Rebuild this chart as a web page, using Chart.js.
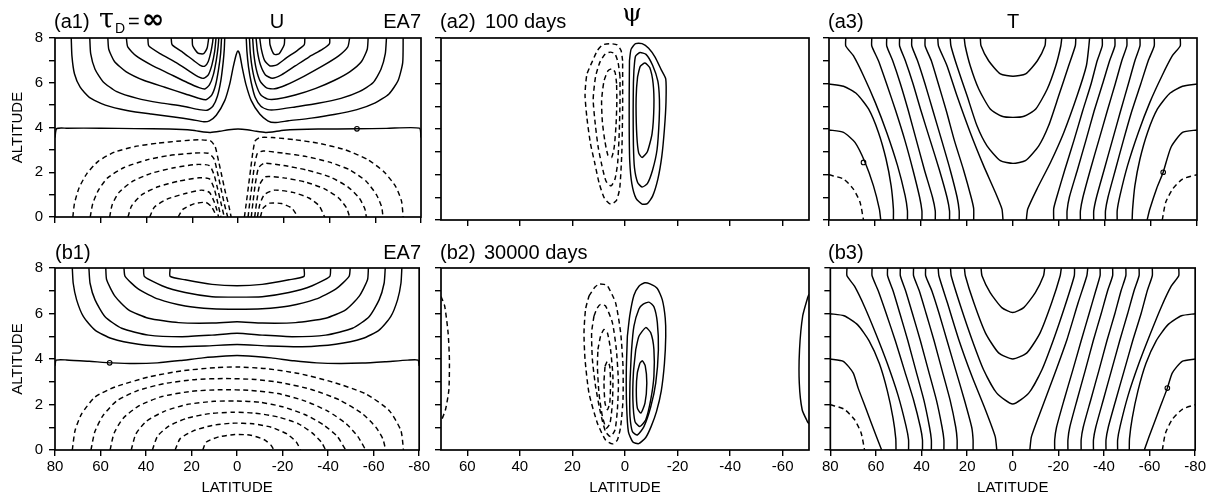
<!DOCTYPE html>
<html>
<head>
<meta charset="utf-8">
<script src="https://cdn.jsdelivr.net/npm/chart.js@4.4.0/dist/chart.umd.min.js"></script>
<style>
body { margin: 0; background: #fff; width: 1208px; height: 502px; position: relative; overflow: hidden; }
canvas { position: absolute; }
</style>
</head>
<body>
<canvas id="a1" width="432" height="232" style="left:0px;top:0px"></canvas>
<canvas id="a2" width="388" height="232" style="left:432px;top:0px"></canvas>
<canvas id="a3" width="388" height="232" style="left:820px;top:0px"></canvas>
<canvas id="b1" width="432" height="270" style="left:0px;top:232px"></canvas>
<canvas id="b2" width="388" height="270" style="left:432px;top:232px"></canvas>
<canvas id="b3" width="388" height="270" style="left:820px;top:232px"></canvas>
<script>
// tick values
var latTicks = [80, 60, 40, 20, 0, -20, -40, -60, -80];
var psiLatTicks = [60, 40, 20, 0, -20, -40, -60];
var altTicks = [0, 1, 2, 3, 4, 5, 6, 7, 8];

// contours are [latitude, altitude] pairs

// (a1) U, tau_D = infinity
var a1Solid = [
    [[72.9,8],[72.6,7.2],[71.5,6.4],[69,5.8],[65,5.35],[58,5.0],[48,4.75],[38,4.6],[28,4.47],[20,4.35],[15,4.26],[12.5,4.3],[9.5,4.55],[5.8,5.2],[3.6,5.95],[2.2,6.65],[0.8,7.25],[0,7.42],[-0.8,7.25],[-1.9,6.65],[-3.4,5.95],[-5.8,5.2],[-9.5,4.6],[-13,4.3],[-16,4.22],[-22,4.3],[-32,4.42],[-42,4.58],[-52,4.8],[-60,5.1],[-66,5.5],[-70,6.1],[-72,6.9],[-72.2,8]],
    [[64.8,8],[64.4,7.3],[62.5,6.6],[59,6.05],[53,5.6],[44,5.3],[34,5.1],[24,4.95],[17,4.8],[13.5,4.77],[11,4.95],[9,5.4],[7.5,6.1],[6.5,6.9],[6,7.5],[5.8,8]],
    [[56.9,8],[56.5,7.5],[54,6.95],[49,6.5],[41,6.1],[32,5.8],[23,5.5],[17,5.3],[14,5.24],[11.5,5.45],[9.8,5.9],[8.5,6.6],[7.6,7.3],[7.2,8]],
    [[48.8,8],[48.2,7.6],[44.5,7.2],[38,6.8],[30,6.4],[22,6.0],[17,5.78],[14.5,5.72],[12.5,5.9],[10.8,6.35],[9.5,7.0],[8.7,7.6],[8.4,8]],
    [[39.4,8],[39,7.65],[34,7.3],[27,6.9],[21,6.5],[17,6.25],[15,6.2],[13,6.35],[11.4,6.8],[10.2,7.4],[9.6,8]],
    [[29.2,8],[28.8,7.7],[24,7.35],[19.5,7.0],[16.5,6.78],[14.5,6.74],[13,6.95],[11.8,7.4],[11.1,7.8],[10.9,8]],
    [[20,8],[19.8,7.65],[17.5,7.32],[15,7.3],[13.5,7.55],[12.8,8]],
    [[-3.6,8],[-3.9,7.4],[-4.6,6.7],[-5.8,6.0],[-7.5,5.35],[-10,4.95],[-13,4.8],[-17,4.8],[-25,4.92],[-35,5.08],[-45,5.3],[-53,5.6],[-59,6.0],[-62.5,6.6],[-64.4,7.3],[-64.9,8]],
    [[-5,8],[-5.4,7.3],[-6.3,6.6],[-7.8,5.95],[-10,5.45],[-13,5.27],[-17,5.27],[-25,5.45],[-34,5.75],[-42,6.1],[-49,6.5],[-54,6.95],[-56.5,7.5],[-56.9,8]],
    [[-6.4,8],[-6.9,7.3],[-8,6.6],[-9.8,6.05],[-12.5,5.77],[-16,5.73],[-21,5.9],[-29,6.3],[-37,6.75],[-44,7.2],[-48,7.6],[-48.8,8]],
    [[-7.9,8],[-8.5,7.4],[-9.8,6.8],[-12,6.35],[-15,6.2],[-19,6.35],[-25,6.75],[-31,7.15],[-37,7.5],[-40,7.75],[-40.1,8]],
    [[-9.5,8],[-10.2,7.5],[-11.6,7.0],[-14,6.75],[-17,6.8],[-21,7.1],[-26,7.45],[-29,7.7],[-29.2,8]],
    [[-13.8,8],[-14,7.7],[-15.8,7.27],[-18,7.3],[-20.2,7.7],[-20.4,8]],
    [[80,3.55],[79.3,3.95],[75,3.97],[60,3.97],[45,3.95],[30,3.93],[20,3.88],[15,3.8],[12,3.78],[8,3.83],[4,3.9],[0,3.93],[-4,3.9],[-8,3.83],[-12,3.78],[-15,3.8],[-20,3.88],[-35,3.93],[-52,3.94],[-65,3.96],[-79.3,3.97],[-80,3.55]]
];
var a1Dashed = [
    [[72.2,0],[71.5,0.6],[69.5,1.3],[66,1.95],[61,2.5],[54,2.9],[45,3.15],[35,3.3],[25,3.4],[17,3.45],[12,3.4],[10,3.15],[8.5,2.5],[7,1.8],[5.5,1.1],[4,0.5],[3,0]],
    [[64.6,0],[63.5,0.6],[61,1.2],[57,1.75],[50,2.2],[40,2.55],[30,2.75],[20,2.85],[13,2.85],[10.5,2.6],[9,2.0],[7.5,1.3],[6,0.6],[4.5,0]],
    [[56.1,0],[55,0.55],[52,1.1],[46,1.6],[38,1.95],[28,2.2],[18,2.35],[12.5,2.3],[10.5,1.9],[9,1.3],[7.5,0.65],[6,0]],
    [[48.1,0],[46.5,0.5],[42,1.0],[35,1.35],[26,1.6],[17,1.75],[12.5,1.7],[10.5,1.3],[9,0.7],[7.5,0]],
    [[38.6,0],[36.5,0.45],[31,0.8],[23,1.05],[16,1.2],[12.5,1.1],[10.5,0.7],[9.2,0.3],[8.5,0]],
    [[26.2,0],[24,0.35],[19,0.6],[14,0.65],[11.5,0.45],[10.2,0.2],[9.6,0]],
    [[-2.8,0],[-3.6,0.6],[-4.6,1.4],[-5.6,2.2],[-6.5,2.9],[-7.5,3.4],[-9.5,3.55],[-15,3.55],[-25,3.45],[-35,3.3],[-47,3.0],[-57,2.55],[-64,2.0],[-69,1.35],[-71.5,0.7],[-72.2,0]],
    [[-4.4,0],[-5.2,0.7],[-6.2,1.5],[-7.2,2.3],[-8.5,2.85],[-11,2.95],[-20,2.85],[-30,2.7],[-40,2.45],[-49,2.1],[-56,1.6],[-60.5,1.0],[-62.8,0.45],[-63.4,0]],
    [[-5.8,0],[-6.6,0.7],[-7.6,1.5],[-9,2.2],[-11.5,2.4],[-20,2.3],[-30,2.1],[-40,1.8],[-48,1.35],[-53,0.85],[-55.5,0.35],[-56.1,0]],
    [[-7.3,0],[-8.2,0.7],[-9.5,1.45],[-12,1.8],[-20,1.75],[-30,1.55],[-38,1.25],[-44,0.85],[-47.5,0.4],[-48.8,0]],
    [[-8.5,0],[-9.5,0.55],[-11.5,1.0],[-16,1.2],[-24,1.1],[-31,0.85],[-35.5,0.5],[-37.9,0]],
    [[-9.8,0],[-11,0.4],[-14,0.62],[-19,0.6],[-23.5,0.4],[-26.2,0]]
];
var a1Marks = [[-52, 3.94]];

// (a2) psi, 100 days
var a2Solid = [
    [[-1.7,7.0],[-2.3,7.5],[-4,7.75],[-6.5,7.75],[-9,7.55],[-11.5,7.15],[-13.8,6.6],[-15.5,6.2],[-15.6,5.2],[-15,4.0],[-14,2.8],[-12.5,1.8],[-10.5,1.05],[-8.5,0.72],[-6.5,0.7],[-4.2,0.95],[-2.6,1.6],[-1.8,2.6],[-1.6,4.0],[-1.6,5.5],[-1.7,7.0]],
    [[-3.4,6.6],[-4,7.2],[-5.7,7.36],[-8,7.28],[-10.5,6.8],[-12.5,6.1],[-13.1,5.3],[-13,4.4],[-12.2,3.1],[-10.5,2.2],[-8.5,1.6],[-6.5,1.45],[-4.8,1.65],[-3.6,2.3],[-3.2,3.3],[-3.1,4.8],[-3.2,6.0],[-3.4,6.6]],
    [[-4.8,6.3],[-5.8,6.75],[-7.6,6.9],[-9.4,6.7],[-10.7,6.0],[-11,5.0],[-10.3,3.8],[-8.5,3.0],[-6.5,2.75],[-5.2,2.95],[-4.5,3.7],[-4.2,5.0],[-4.4,5.8],[-4.8,6.3]]
];
var a2Dashed = [
    [[0.9,7.0],[1.5,7.45],[3,7.7],[5.7,7.75],[8.5,7.7],[10.5,7.45],[12.5,6.95],[14.5,6.4],[15.2,5.5],[14.5,4.5],[13.2,3.4],[11.5,2.5],[9.8,1.6],[7.8,0.95],[5.5,0.7],[3.3,0.85],[2,1.4],[1.2,3.0],[0.9,5.0],[0.9,7.0]],
    [[1.9,6.3],[2.6,6.9],[3.8,7.3],[5.5,7.38],[7.5,7.3],[9.5,6.95],[11.2,6.3],[12.1,5.3],[11.3,4.2],[10.2,3.2],[8.8,2.4],[7.2,1.7],[5.3,1.5],[3.8,1.8],[2.8,2.5],[2.2,3.8],[1.9,5.2],[1.9,6.3]],
    [[3.2,6.0],[3.8,6.5],[5,6.65],[6.5,6.55],[8,6.1],[8.9,5.25],[8.6,4.3],[7.7,3.5],[6.5,2.85],[5.1,2.75],[4.1,3.2],[3.4,4.2],[3.1,5.2],[3.2,6.0]]
];

// (a3) T
var a3Solid = [
    [[80,5.98],[73.7,5.88],[67.9,5.54],[62.8,4.88],[58.5,3.85],[55.2,2.68],[53,1.51],[52,0.48],[52,0]],
    [[80,3.96],[73.7,3.85],[68.7,3.41],[64.3,2.53],[60.7,1.51],[58.1,0.48],[57.5,0]],
    [[72.7,8],[72.7,7.65],[69.4,7.22],[65,6.34],[59.9,5.17],[54.9,3.85],[50.2,2.39],[46.9,1.07],[45.9,0.41],[45.9,0]],
    [[61.4,8],[61.4,7.65],[58.5,7.0],[55,6.0],[51,4.8],[47,3.5],[43.5,2.2],[40.6,1.0],[39.6,0.4],[39.6,0]],
    [[54.9,8],[54.9,7.65],[52.3,7.0],[49,6.0],[45.5,4.8],[42,3.5],[38.5,2.2],[35,1.0],[33.8,0.4],[33.8,0]],
    [[49.3,8],[49.3,7.65],[46.8,7.0],[43.5,6.0],[40,4.8],[36,3.5],[32,2.2],[28.7,1.0],[27.6,0.4],[27.6,0]],
    [[44,8],[44,7.65],[41.5,7.0],[38.3,6.0],[34.8,4.8],[31,3.5],[27.3,2.2],[24.3,1.0],[23.4,0.4],[23.4,0]],
    [[38.2,8],[38.2,7.65],[35.5,7.0],[32.5,6.0],[29,4.8],[25.5,3.5],[21.5,2.2],[18.2,1.0],[17.1,0.5],[17.1,0]],
    [[32.7,8],[32.4,7.65],[28.7,6.78],[24.4,5.47],[18.6,3.85],[12.8,2.39],[7.7,1.22],[4.8,0.48],[4.35,0]],
    [[27.3,8],[27,7.66],[24.4,6.78],[20,5.47],[15.7,4.15],[11.3,3.26],[5.5,2.61],[0,2.49],[-5.4,2.61],[-11.2,3.26],[-15.5,4.15],[-19.9,5.47],[-24.2,6.78],[-27.1,7.66],[-27.3,8]],
    [[21.2,8],[20.8,7.66],[18.6,6.78],[14.9,5.76],[9.9,4.88],[4.8,4.56],[0,4.51],[-4.8,4.56],[-9.9,4.88],[-14.9,5.76],[-18.6,6.78],[-20.8,7.66],[-21.2,8]],
    [[14.2,8],[13.9,7.66],[10.6,7.0],[5.5,6.42],[0,6.32],[-5.5,6.42],[-10.6,7.0],[-13.9,7.66],[-14.2,8]],
    [[-5.8,0],[-6.4,0.48],[-10.4,1.36],[-16.3,2.53],[-22.1,3.85],[-27.9,5.47],[-31.9,6.78],[-33,7.66],[-33.3,8]],
    [[-17.7,0],[-17.7,0.5],[-19,1.0],[-22.5,2.2],[-26.5,3.5],[-30.3,4.8],[-34,6.0],[-36.6,7.0],[-38.8,7.65],[-38.8,8]],
    [[-23.5,0],[-23.5,0.4],[-24.5,1.0],[-28,2.2],[-31.7,3.5],[-35.3,4.8],[-39,6.0],[-42,7.0],[-44.3,7.65],[-44.3,8]],
    [[-29.3,0],[-29.3,0.4],[-30.4,1.0],[-33.6,2.2],[-37.3,3.5],[-41,4.8],[-44.5,6.0],[-47.3,7.0],[-49.5,7.65],[-49.5,8]],
    [[-35.1,0],[-35.1,0.4],[-36.3,1.0],[-39.6,2.2],[-43.2,3.5],[-46.8,4.8],[-50.2,6.0],[-53,7.0],[-55.2,7.65],[-55.2,8]],
    [[-40.2,0],[-40.2,0.4],[-41.3,1.0],[-44.5,2.2],[-48,3.5],[-51.7,4.8],[-55.6,6.0],[-58.8,7.0],[-61.4,7.65],[-61.4,8]],
    [[-45.3,0],[-45.3,0.41],[-46.5,1.07],[-49.8,2.39],[-54.5,3.85],[-59.5,5.17],[-64.8,6.34],[-69.3,7.22],[-72.7,7.65],[-72.7,8]],
    [[-51.8,0],[-52,0.48],[-53,1.51],[-55.2,2.68],[-58.5,3.85],[-62.8,4.88],[-67.9,5.54],[-73.7,5.88],[-80,5.98]],
    [[-58.3,0],[-59.5,0.48],[-62.5,1.4],[-65.3,2.1],[-68.7,3.2],[-73.7,3.85],[-80,3.96]]
];
var a3Dashed = [
    [[80,1.99],[73.7,1.8],[69.4,1.36],[66.5,0.78],[65,0]],
    [[-64.9,0],[-66.4,0.78],[-69.4,1.36],[-73.7,1.8],[-80,1.99]]
];
var a3Marks = [[65, 2.53], [-65.3, 2.1]];

// (b1) U, EA7
var b1Solid = [
    [[72.4,8],[72,7.33],[70.5,6.6],[67.5,5.86],[62.4,5.27],[55.1,4.9],[43.3,4.65],[28.6,4.54],[14,4.57],[0,4.64],[-14,4.57],[-28.6,4.54],[-43.3,4.65],[-55.1,4.9],[-62.4,5.27],[-67.5,5.86],[-70.5,6.6],[-72,7.33],[-72.4,8]],
    [[65.1,8],[64.6,7.33],[62.4,6.6],[58,5.86],[50.7,5.35],[38.9,5.05],[24.2,4.98],[11,5.05],[0,5.13],[-11,5.05],[-24.2,4.98],[-38.9,5.05],[-50.7,5.35],[-58,5.86],[-62.4,6.6],[-64.6,7.33],[-65.1,8]],
    [[57.7,8],[57.3,7.48],[53.6,6.75],[47.7,6.16],[38.9,5.79],[25.7,5.6],[11,5.58],[0,5.64],[-11,5.58],[-25.7,5.6],[-38.9,5.79],[-47.7,6.16],[-53.6,6.75],[-57.3,7.48],[-57.7,8]],
    [[49.7,8],[49.2,7.63],[43.3,7.07],[34.5,6.63],[22.8,6.33],[11,6.21],[0,6.19],[-11,6.21],[-22.8,6.33],[-34.5,6.63],[-43.3,7.07],[-49.2,7.63],[-49.7,8]],
    [[41.1,8],[40.7,7.63],[33,7.22],[22.8,6.92],[11,6.74],[0,6.72],[-11,6.74],[-22.8,6.92],[-33,7.22],[-40.7,7.63],[-41.1,8]],
    [[29.4,8],[29.4,7.63],[22.8,7.48],[11,7.28],[0,7.22],[-11,7.28],[-22.8,7.48],[-29.4,7.63],[-29.4,8]],
    [[80,3.7],[79.5,3.95],[75,3.96],[65,3.9],[55,3.83],[45,3.8],[35,3.83],[25,3.93],[15,4.05],[5,4.13],[0,4.15],[-5,4.13],[-15,4.05],[-25,3.92],[-35,3.83],[-45,3.8],[-55,3.82],[-65,3.88],[-75,3.95],[-79.5,3.95],[-80,3.7]]
];
var b1Dashed = [
    [[72.4,0],[71.2,0.85],[68.3,1.59],[62.4,2.33],[53.6,2.77],[38.9,3.21],[24.2,3.48],[9.5,3.62],[0,3.65],[-12.5,3.58],[-27.2,3.36],[-41.9,2.99],[-56.5,2.47],[-66.8,1.74],[-72,0.85],[-73.1,0]],
    [[64.2,0],[62.5,0.8],[59,1.5],[53,2.15],[44,2.6],[32,2.92],[18,3.1],[5,3.14],[-8,3.1],[-20,2.95],[-33,2.65],[-45,2.2],[-55,1.6],[-61,1.0],[-64,0.5],[-65.3,0]],
    [[55.8,0],[54,0.75],[50,1.4],[43,1.95],[33,2.35],[20,2.58],[7,2.65],[-6,2.62],[-18,2.48],[-30,2.15],[-40,1.7],[-48,1.15],[-53,0.6],[-56.5,0]],
    [[46.5,0],[44.5,0.7],[40,1.25],[32,1.7],[22,2.0],[10,2.14],[0,2.15],[-10,2.1],[-20,1.9],[-30,1.55],[-38,1.1],[-44,0.6],[-47.7,0]],
    [[37.2,0],[35,0.6],[30,1.05],[22,1.4],[12,1.6],[2,1.66],[-8,1.62],[-18,1.45],[-27,1.15],[-33,0.75],[-37,0.35],[-38.9,0]],
    [[27.2,0],[25,0.5],[19,0.85],[11,1.08],[2,1.18],[-7,1.15],[-15,1.0],[-22,0.7],[-26,0.35],[-27.9,0]],
    [[15.1,0],[13.5,0.35],[8,0.58],[1,0.68],[-6,0.65],[-12,0.45],[-15,0.2],[-16.2,0]]
];
var b1Marks = [[56, 3.83]];

// (b2) psi, 30000 days
var b2Solid = [
    [[-0.9,5.0],[-1.8,5.9],[-3.4,6.8],[-5.3,7.2],[-7.5,7.35],[-9.5,7.3],[-12.3,7.1],[-14.2,6.6],[-15.3,5.8],[-15.5,5.0],[-15,3.8],[-13.8,2.6],[-12,1.7],[-10,1.05],[-7.9,0.55],[-5.2,0.28],[-3,0.35],[-1.3,0.8],[-0.6,2.0],[-0.5,3.5],[-0.9,5.0]],
    [[-1.9,3.0],[-2.5,4.4],[-3.4,5.45],[-5.3,6.2],[-6.8,6.4],[-9.1,6.5],[-11,6.3],[-12.3,5.6],[-12.7,4.4],[-11.7,2.95],[-9.8,1.9],[-7.2,1.03],[-4.7,0.66],[-2.8,0.81],[-1.9,1.47],[-1.8,2.2],[-1.9,3.0]],
    [[-4.1,4.42],[-5.3,5.0],[-7.9,5.38],[-9.8,5.15],[-11,4.42],[-11,3.24],[-9.8,2.21],[-7.9,1.33],[-5.6,1.03],[-3.8,1.25],[-3.0,2.21],[-3.2,3.39],[-4.1,4.42]],
    [[-5.7,3.83],[-6.6,3.92],[-7.7,3.7],[-8.3,2.95],[-7.6,2.06],[-6.0,1.62],[-4.7,1.84],[-4.3,2.65],[-4.7,3.39],[-5.7,3.83]],
    [[-70,6.85],[-69.5,6.7],[-67.6,5.89],[-66.4,4.42],[-66.3,2.95],[-67.4,1.77],[-69.4,1.25],[-70,1.15]]
];
var b2Dashed = [
    [[13.7,6.77],[11.5,7.15],[9.9,7.29],[8,7.28],[6.7,7.22],[3.6,6.48],[1.65,5.15],[0.76,3.68],[0.76,2.21],[1.65,1.03],[2.9,0.44],[4.8,0.27],[7.4,0.44],[10.5,1.18],[13.7,2.5],[15.2,3.98],[15.6,5.15],[15,6.19],[13.7,6.77]],
    [[11.8,5.89],[10.5,6.25],[9.3,6.4],[7.4,6.33],[4.8,5.6],[3.3,4.42],[2.5,2.95],[2.9,1.77],[3.8,0.88],[5.5,0.59],[7.4,0.81],[9.3,1.62],[11.2,2.8],[12.4,3.98],[12.7,5.15],[11.8,5.89]],
    [[10.3,4.42],[9.3,5.0],[8.0,5.3],[6.7,5.15],[5.5,4.42],[4.6,3.24],[4.8,2.06],[5.7,1.18],[7.1,0.96],[8.6,1.47],[9.9,2.5],[10.5,3.68],[10.3,4.42]],
    [[7.6,3.68],[6.7,3.9],[5.8,3.68],[5.5,2.95],[5.8,2.06],[6.7,1.77],[7.6,2.06],[8.0,2.95],[7.6,3.68]],
    [[70,6.75],[68.6,6.33],[67.3,5.15],[66.8,3.98],[67,2.65],[68.3,1.77],[70,1.25]]
];

// (b3) T
var b3Solid = [
    [[80,5.99],[74,5.9],[68,5.5],[63,4.8],[58.5,3.8],[55,2.6],[52.5,1.4],[51.3,0.5],[51.2,0]],
    [[80,4.0],[74.3,3.9],[70,3.39],[67.8,2.72],[64.2,1.77],[59.8,0.59],[57.5,0]],
    [[72.7,8],[72.7,7.66],[69.4,7.2],[65,6.3],[60,5.1],[55,3.8],[50.3,2.4],[46.8,1.05],[45.7,0.45],[45.7,0]],
    [[61.7,8],[61.7,7.66],[59,7.0],[55.5,6.0],[51.5,4.8],[47.5,3.5],[43.5,2.2],[40.5,1.0],[39.6,0.45],[39.6,0]],
    [[54.9,8],[54.9,7.66],[52.5,7.0],[49.5,6.0],[46,4.8],[42.5,3.5],[39,2.2],[36.5,1.0],[35.7,0.45],[35.7,0]],
    [[49.3,8],[49.3,7.66],[47,7.0],[44,6.0],[40.5,4.8],[37,3.5],[33.5,2.2],[31,1.0],[30.2,0.45],[30.2,0]],
    [[43.5,8],[43.5,7.66],[41,7.0],[38,6.0],[34.5,4.8],[31,3.5],[27.5,2.2],[25,1.0],[24.4,0.45],[24.4,0]],
    [[38.2,8],[38.2,7.66],[35.5,7.0],[32.3,6.0],[28.8,4.8],[25,3.5],[21.2,2.2],[18,1.0],[17.4,0.45],[17.4,0]],
    [[32.7,8],[32.4,7.66],[28.7,6.48],[23.7,4.86],[17.9,3.24],[12,1.77],[7.7,0.59],[7.0,0]],
    [[27.3,8],[27,7.66],[22.9,6.33],[17.9,4.86],[12.8,3.53],[7.0,2.5],[0,2.02],[-7.0,2.5],[-12.8,3.53],[-17.9,4.86],[-22.9,6.33],[-27,7.66],[-27.1,8]],
    [[21.2,8],[20.8,7.66],[17.1,6.48],[12,5.15],[6.2,4.27],[0,4.0],[-6.2,4.27],[-12,5.15],[-17.1,6.48],[-20.8,7.66],[-21.3,8]],
    [[13.9,8],[13.5,7.66],[9.9,6.92],[4.8,6.26],[0,6.04],[-4.8,6.26],[-9.9,6.92],[-13.5,7.66],[-14,8]],
    [[-7.5,0],[-8.2,0.59],[-12.5,1.77],[-18,3.24],[-23.8,4.86],[-28.7,6.48],[-32.5,7.66],[-32.9,8]],
    [[-18.4,0],[-18.4,0.45],[-19.2,1.0],[-22.5,2.2],[-26.3,3.5],[-30,4.8],[-33.5,6.0],[-36.4,7.0],[-38.3,7.66],[-38.3,8]],
    [[-24.2,0],[-24.2,0.45],[-25,1.0],[-28.2,2.2],[-31.8,3.5],[-35.3,4.8],[-38.8,6.0],[-41.6,7.0],[-43.8,7.66],[-43.8,8]],
    [[-30,0],[-30,0.45],[-30.9,1.0],[-34.2,2.2],[-37.8,3.5],[-41.3,4.8],[-44.8,6.0],[-47.5,7.0],[-49.6,7.66],[-49.6,8]],
    [[-35.4,0],[-35.4,0.45],[-36.4,1.0],[-39.7,2.2],[-43.3,3.5],[-46.9,4.8],[-50.4,6.0],[-53.2,7.0],[-55.4,7.66],[-55.4,8]],
    [[-40.9,0],[-40.9,0.45],[-41.9,1.0],[-45.2,2.2],[-48.9,3.5],[-52.6,4.8],[-56.3,6.0],[-59,7.0],[-61.2,7.66],[-61.2,8]],
    [[-46,0],[-46,0.45],[-47.1,1.05],[-50.6,2.4],[-55.3,3.8],[-60.3,5.1],[-65.2,6.3],[-69.5,7.2],[-72.8,7.66],[-72.8,8]],
    [[-51.1,0],[-51.2,0.5],[-52.4,1.4],[-54.9,2.6],[-58.4,3.8],[-62.9,4.8],[-68,5.5],[-74,5.9],[-80,5.99]],
    [[-57.7,0],[-59.8,0.59],[-64.2,1.77],[-67.8,2.72],[-70,3.39],[-74.3,3.9],[-80,4.0]]
];
var b3Dashed = [
    [[80,1.99],[74,1.8],[69.5,1.35],[66.5,0.75],[65,0]],
    [[-65.6,0],[-67,0.75],[-70,1.35],[-74.5,1.8],[-80,1.99]]
];
var b3Marks = [[-67.8, 2.72]];

var SANS = '"Liberation Sans", Arial, sans-serif';
Chart.defaults.font.family = SANS;
Chart.defaults.color = '#000';

// panel headers, page coordinates (x, baseline y)
var headA1 = [
    { text: '(a1)', x: 54, y: 28, font: '20px ' + SANS },
    { text: 'τ', x: 99, y: 28, font: '27px "DejaVu Serif"' },
    { text: 'D', x: 115, y: 33, font: '14px ' + SANS },
    { text: '=', x: 128, y: 28, font: '20px ' + SANS },
    { text: '∞', x: 142, y: 28, font: 'bold 27px "DejaVu Sans"' },
    { text: 'U', x: 277, y: 28, font: '20px ' + SANS, align: 'center' },
    { text: 'EA7', x: 421, y: 28, font: '20px ' + SANS, align: 'right' }
];
var headA2 = [
    { text: '(a2)', x: 440, y: 28, font: '20px ' + SANS },
    { text: '100 days', x: 485, y: 28, font: '20px ' + SANS },
    { text: 'ψ', x: 632, y: 21, font: '25px "DejaVu Serif"', align: 'center' }
];
var headA3 = [
    { text: '(a3)', x: 828, y: 28, font: '20px ' + SANS },
    { text: 'T', x: 1013, y: 28, font: '20px ' + SANS, align: 'center' }
];
var headB1 = [
    { text: '(b1)', x: 55, y: 259, font: '20px ' + SANS },
    { text: 'EA7', x: 421, y: 259, font: '20px ' + SANS, align: 'right' }
];
var headB2 = [
    { text: '(b2)', x: 440, y: 259, font: '20px ' + SANS },
    { text: '30000 days', x: 484, y: 259, font: '20px ' + SANS }
];
var headB3 = [
    { text: '(b3)', x: 828, y: 259, font: '20px ' + SANS }
];

var boxPlugin = {
    id: 'box',
    afterDatasetsDraw: function (chart) {
        var a = chart.chartArea, ctx = chart.ctx;
        ctx.save();
        ctx.strokeStyle = '#000';
        ctx.lineWidth = 1.7;
        ctx.strokeRect(a.left, a.top, a.right - a.left, a.bottom - a.top);
        ctx.restore();
    }
};

function headerPlugin(items, offX, offY) {
    return {
        id: 'header',
        afterDraw: function (chart) {
            var ctx = chart.ctx;
            ctx.save();
            ctx.fillStyle = '#000';
            ctx.textBaseline = 'alphabetic';
            items.forEach(function (it) {
                ctx.font = it.font;
                ctx.textAlign = it.align || 'left';
                ctx.fillText(it.text, it.x - offX, it.y - offY);
            });
            ctx.restore();
        }
    };
}

function lineSet(pts, dashed) {
    return {
        data: pts.map(function (p) { return { x: p[0], y: p[1] }; }),
        showLine: true,
        pointRadius: 0,
        borderColor: '#000',
        borderWidth: 1.45,
        borderDash: dashed ? [5, 3.5] : [],
        tension: 0.2,
        fill: false
    };
}

function makeScales(col, row) {
    var xr = col === 2 ? 70 : 80;
    var xt = col === 2 ? psiLatTicks : latTicks;
    return {
        x: {
            type: 'linear', min: -xr, max: xr, reverse: true,
            afterBuildTicks: function (s) { s.ticks = xt.map(function (v) { return { value: v }; }); },
            afterFit: function (s) { s.height = row === 'a' ? 12 : 52; },
            grid: { drawOnChartArea: false, drawTicks: true, tickLength: 6, color: '#000', lineWidth: 1.4 },
            border: { display: false },
            ticks: { display: row === 'b', autoSkip: false, maxRotation: 0, padding: 2, font: { size: 15 },
                     callback: function (v) { return String(v); } },
            title: { display: row === 'b', text: 'LATITUDE', font: { size: 15 }, padding: { top: 0, bottom: 5 } }
        },
        y: {
            type: 'linear', min: 0, max: 8,
            afterBuildTicks: function (s) { s.ticks = altTicks.map(function (v) { return { value: v }; }); },
            afterFit: function (s) { s.width = col === 1 ? 55 : 9; },
            grid: { drawOnChartArea: false, drawTicks: true, tickLength: 6, color: '#000', lineWidth: 1.4 },
            border: { display: false },
            ticks: { display: col === 1, autoSkip: false, padding: 6, font: { size: 15 },
                     callback: function (v) { return v % 2 === 0 ? String(v) : ''; } },
            title: { display: col === 1, text: 'ALTITUDE', font: { size: 15 }, padding: { top: 9, bottom: 0 } }
        }
    };
}

function makePanel(id, col, row, solid, dashed, marks, header) {
    var cv = document.getElementById(id);
    var offX = parseInt(cv.style.left), offY = parseInt(cv.style.top);
    var datasets = [];
    solid.forEach(function (l) { datasets.push(lineSet(l, false)); });
    dashed.forEach(function (l) { datasets.push(lineSet(l, true)); });
    if (marks.length) {
        datasets.push({
            data: marks.map(function (p) { return { x: p[0], y: p[1] }; }),
            showLine: false, pointRadius: 2.3, pointBackgroundColor: '#fff',
            pointBorderColor: '#000', pointBorderWidth: 1.1
        });
    }
    new Chart(cv, {
        type: 'scatter',
        data: { datasets: datasets },
        options: {
            responsive: false,
            animation: false,
            events: [],
            layout: { padding: { top: row === 'a' ? 38 : 36, right: 11, left: 0, bottom: 0 } },
            plugins: { legend: { display: false }, tooltip: { enabled: false } },
            scales: makeScales(col, row)
        },
        plugins: [boxPlugin, headerPlugin(header, offX, offY)]
    });
}

makePanel('a1', 1, 'a', a1Solid, a1Dashed, a1Marks, headA1);
makePanel('a2', 2, 'a', a2Solid, a2Dashed, [], headA2);
makePanel('a3', 3, 'a', a3Solid, a3Dashed, a3Marks, headA3);
makePanel('b1', 1, 'b', b1Solid, b1Dashed, b1Marks, headB1);
makePanel('b2', 2, 'b', b2Solid, b2Dashed, [], headB2);
makePanel('b3', 3, 'b', b3Solid, b3Dashed, b3Marks, headB3);
</script>
</body>
</html>
